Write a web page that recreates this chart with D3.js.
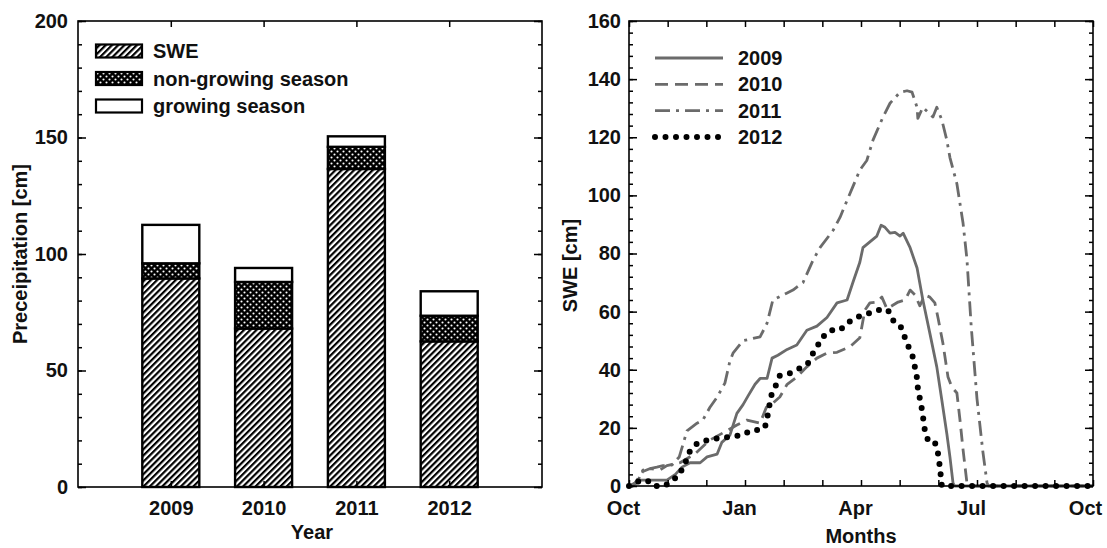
<!DOCTYPE html>
<html>
<head>
<meta charset="utf-8">
<script src="https://cdn.jsdelivr.net/npm/d3@7"></script>
<style>
  html, body { margin: 0; padding: 0; background: #fff; }
  svg { display: block; }
  text { font-family: "Liberation Sans", Arial, sans-serif; font-weight: bold; fill: #111; }
</style>
</head>
<body>
<svg id="chart" width="1107" height="548"></svg>
<script>
// ---------------- DATA ----------------
const years = ["2009", "2010", "2011", "2012"];
const sweVals = [89.5, 68, 136.5, 62.5];
const nonGrowingVals = [6.5, 20, 9.5, 11];
const growingVals = [16.5, 6, 4.5, 10.5];
const precipTicks = [0, 50, 100, 150, 200];
const barLegend = ["SWE", "non-growing season", "growing season"];

const monthTickPos = [0, 3, 6, 9, 12];
const monthLabels = ["Oct", "Jan", "Apr", "Jul", "Oct"];
const sweTicks = [0, 20, 40, 60, 80, 100, 120, 140, 160];
const lineLegend = ["2009", "2010", "2011", "2012"];

// [months since Oct 1, SWE cm]
const swe2009 = [[0,0],[0.3,2],[0.6,2],[0.98,2],[1.2,4],[1.37,6.5],[1.58,8],[1.84,8],[2.02,10],[2.28,11],[2.4,15],[2.61,17.5],[2.79,25],[2.95,28],[3.08,31],[3.26,35],[3.39,37],[3.57,37],[3.70,44],[3.85,45],[4.09,47],[4.34,48.5],[4.6,53.6],[4.86,55],[5.12,58],[5.38,63],[5.64,64],[5.79,70],[5.97,77],[6.05,82],[6.23,84],[6.41,86],[6.52,89.7],[6.62,89],[6.75,87],[6.88,87.3],[7.01,86],[7.09,87],[7.27,82],[7.45,75],[7.6,64],[7.78,52.6],[7.96,41],[8.09,29.6],[8.22,18],[8.3,10],[8.38,1],[8.42,0],[12,0]];
const swe2010 = [[0,0],[0.1,0],[0.36,5],[0.55,6],[0.8,5.5],[0.98,7],[1.32,8],[1.7,11],[2.09,15.8],[2.53,19],[2.79,21],[3.05,22.7],[3.39,21.6],[3.55,27],[3.72,28.5],[3.9,30.6],[4.09,35],[4.34,37.5],[4.6,41],[4.86,44],[5.12,45.7],[5.38,46],[5.72,48],[5.97,51],[6.1,60.5],[6.23,63],[6.41,63.3],[6.54,65],[6.67,61],[6.8,62],[6.96,63.3],[7.14,64],[7.27,67.4],[7.40,65.7],[7.52,62],[7.65,65.7],[7.78,65],[7.91,63],[7.99,58],[8.12,49],[8.25,37.5],[8.35,34],[8.48,32],[8.56,22.7],[8.64,12.4],[8.74,1],[8.78,0],[12,0]];
const swe2011 = [[0,0],[0.2,1],[0.36,5.5],[0.72,6.5],[0.88,7],[1.11,7.2],[1.3,10],[1.5,19],[1.76,21.6],[1.91,22.7],[2.09,27],[2.28,30.6],[2.48,35.4],[2.61,43],[2.69,45.7],[2.95,50],[3.39,51.3],[3.57,56],[3.72,64],[4.09,66.4],[4.24,67.4],[4.5,70],[4.76,77.7],[4.94,82],[5.28,88],[5.46,92.5],[5.64,98.3],[5.79,103],[5.97,108.7],[6.15,112],[6.31,119],[6.57,127],[6.75,131.7],[7.01,135.5],[7.19,136],[7.32,135.5],[7.45,130.3],[7.47,126.5],[7.6,130.3],[7.78,128],[7.86,127],[7.96,130.3],[8.09,126],[8.22,119],[8.3,113],[8.48,104],[8.64,90.4],[8.74,78],[8.85,55],[9.0,30],[9.15,12],[9.26,1],[9.3,0],[12,0]];
const swe2012 = [[0,0],[0.16,1.4],[0.47,2],[0.62,0],[0.93,0],[1.11,2],[1.32,3.8],[1.4,7.2],[1.53,9.6],[1.58,12.4],[1.78,14.8],[2.04,15.8],[2.35,16.5],[2.61,16.9],[2.92,17.5],[3.18,19.3],[3.44,19.3],[3.57,21.6],[3.59,25],[3.65,29],[3.70,32.3],[3.83,35.4],[3.9,38],[4.16,38.8],[4.42,40.5],[4.63,42.3],[4.73,45],[4.86,47.8],[4.99,51],[5.2,53.6],[5.46,53.6],[5.64,56],[5.84,57.8],[6.05,58.8],[6.31,59.8],[6.54,60.9],[6.70,60.5],[6.83,57],[7.01,55.4],[7.21,48.5],[7.34,44.4],[7.4,40.5],[7.45,37],[7.47,33.7],[7.58,26],[7.65,19.3],[7.73,15.8],[7.84,14.8],[7.91,15.1],[7.99,11.3],[8.04,6.5],[8.09,0],[12,0]];

// ---------------- SETUP ----------------
const svg = d3.select("#chart");
const defs = svg.append("defs");

const hatch = defs.append("pattern").attr("id", "hatch")
  .attr("patternUnits", "userSpaceOnUse").attr("width", 4.4).attr("height", 4.4)
  .attr("patternTransform", "rotate(45)");
hatch.append("rect").attr("width", 4.4).attr("height", 4.4).attr("fill", "#fff");
hatch.append("line").attr("x1", 1.1).attr("x2", 1.1).attr("y1", 0).attr("y2", 4.4)
  .attr("stroke", "#000").attr("stroke-width", 2.2);

const dots = defs.append("pattern").attr("id", "dots")
  .attr("patternUnits", "userSpaceOnUse").attr("width", 6).attr("height", 6);
dots.append("rect").attr("width", 6).attr("height", 6).attr("fill", "#000");
dots.append("circle").attr("cx", 1.5).attr("cy", 1.5).attr("r", 1.05).attr("fill", "#fff");
dots.append("circle").attr("cx", 4.5).attr("cy", 4.5).attr("r", 1.05).attr("fill", "#fff");

const fills = ["url(#hatch)", "url(#dots)", "#fff"];

function styleAxis(g) {
  g.select(".domain").remove();
  g.selectAll(".tick line").attr("stroke", "#000").attr("stroke-width", 1.5);
  g.selectAll(".tick text").attr("font-size", 20).attr("font-weight", "bold")
    .attr("font-family", "'Liberation Sans', Arial, sans-serif").attr("fill", "#111");
}

// ---------------- LEFT CHART ----------------
const L = { left: 78, right: 542, top: 21, bottom: 487 };
const xL = d3.scaleLinear().domain([0, years.length + 1]).range([L.left, L.right]);
const yL = d3.scaleLinear().domain([0, 200]).range([L.bottom, L.top]);
const barW = 57;
const gL = svg.append("g");

const stackRows = years.map((y, i) => ({ year: y, i: i, swe: sweVals[i], ng: nonGrowingVals[i], gr: growingVals[i] }));
const stack = d3.stack().keys(["swe", "ng", "gr"])(stackRows);
stack.forEach((layer, k) => {
  gL.append("g").selectAll("rect").data(layer).join("rect")
    .attr("x", d => xL(d.data.i + 1) - barW / 2)
    .attr("width", barW)
    .attr("y", d => yL(d[1]))
    .attr("height", d => yL(d[0]) - yL(d[1]))
    .attr("fill", fills[k])
    .attr("stroke", "#000").attr("stroke-width", 2.4);
});

gL.append("g").attr("transform", `translate(${L.left},0)`)
  .call(d3.axisLeft(yL).tickValues(precipTicks).tickSize(-8).tickPadding(10).tickFormat(d3.format("d")))
  .call(styleAxis);
gL.append("g").attr("transform", `translate(${L.left},0)`)
  .call(d3.axisLeft(yL).tickValues(d3.range(0, 201, 10)).tickSize(-4).tickFormat(""))
  .call(styleAxis);
gL.append("g").attr("transform", `translate(${L.right},0)`)
  .call(d3.axisRight(yL).tickValues(precipTicks).tickSize(-8).tickFormat(""))
  .call(styleAxis);
gL.append("g").attr("transform", `translate(${L.right},0)`)
  .call(d3.axisRight(yL).tickValues(d3.range(0, 201, 10)).tickSize(-4).tickFormat(""))
  .call(styleAxis);
gL.append("g").attr("transform", `translate(0,${L.bottom})`)
  .call(d3.axisBottom(xL).tickValues(d3.range(1, years.length + 1)).tickSize(-6).tickPadding(14)
    .tickFormat(d => years[d - 1]))
  .call(styleAxis);
gL.append("g").attr("transform", `translate(0,${L.top})`)
  .call(d3.axisTop(xL).tickValues(d3.range(1, years.length + 1)).tickSize(-6).tickFormat(""))
  .call(styleAxis);
gL.append("rect").attr("x", L.left).attr("y", L.top).attr("width", L.right - L.left).attr("height", L.bottom - L.top)
  .attr("fill", "none").attr("stroke", "#000").attr("stroke-width", 1.6);

gL.append("text").attr("x", (L.left + L.right) / 2 + 2).attr("y", 539).attr("text-anchor", "middle")
  .attr("font-size", 20).text("Year");
gL.append("text").attr("transform", `translate(27,${(L.top + L.bottom) / 2}) rotate(-90)`)
  .attr("text-anchor", "middle").attr("font-size", 20).text("Preceipitation [cm]");

const legL = gL.append("g");
barLegend.forEach((name, k) => {
  const cy = 51 + k * 27.5;
  legL.append("rect").attr("x", 96).attr("y", cy - 6.5).attr("width", 46).attr("height", 13)
    .attr("fill", fills[k]).attr("stroke", "#000").attr("stroke-width", 2.2);
  legL.append("text").attr("x", 153).attr("y", cy + 7).attr("font-size", 20).text(name);
});

// ---------------- RIGHT CHART ----------------
const R = { left: 629, right: 1093, top: 21, bottom: 486 };
const xR = d3.scaleLinear().domain([0, 12]).range([R.left, R.right]);
const yR = d3.scaleLinear().domain([0, 160]).range([R.bottom, R.top]);
const gR = svg.append("g");

const gray = "#6b6b6b";
const series = [
  { name: "2009", data: swe2009, color: gray, width: 2.8, dash: null, cap: "butt" },
  { name: "2010", data: swe2010, color: gray, width: 2.8, dash: "13,7", cap: "butt" },
  { name: "2011", data: swe2011, color: gray, width: 2.8, dash: "15,6,3,6", cap: "butt" },
  { name: "2012", data: swe2012, color: "#000", width: 6, dash: "0,10.5", cap: "round" }
];
const line = d3.line().x(d => xR(d[0])).y(d => yR(d[1]));
series.forEach(s => {
  gR.append("path").datum(s.data).attr("d", line)
    .attr("fill", "none").attr("stroke", s.color).attr("stroke-width", s.width)
    .attr("stroke-dasharray", s.dash).attr("stroke-linecap", s.cap).attr("stroke-linejoin", "round");
});

gR.append("g").attr("transform", `translate(${R.left},0)`)
  .call(d3.axisLeft(yR).tickValues(sweTicks).tickSize(-8).tickPadding(8).tickFormat(d3.format("d")))
  .call(styleAxis);
gR.append("g").attr("transform", `translate(${R.left},0)`)
  .call(d3.axisLeft(yR).tickValues(d3.range(0, 161, 4)).tickSize(-4).tickFormat(""))
  .call(styleAxis);
gR.append("g").attr("transform", `translate(${R.right},0)`)
  .call(d3.axisRight(yR).tickValues(sweTicks).tickSize(-8).tickFormat(""))
  .call(styleAxis);
gR.append("g").attr("transform", `translate(${R.right},0)`)
  .call(d3.axisRight(yR).tickValues(d3.range(0, 161, 4)).tickSize(-4).tickFormat(""))
  .call(styleAxis);
const xAxisR = gR.append("g").attr("transform", `translate(0,${R.bottom})`)
  .call(d3.axisBottom(xR).tickValues(d3.range(0, 13)).tickSize(-6).tickPadding(15)
    .tickFormat(d => { const i = monthTickPos.indexOf(d); return i >= 0 ? monthLabels[i] : ""; }))
  .call(styleAxis);
// reference labels sit slightly left of their ticks
xAxisR.selectAll(".tick text").attr("dx", d => d === 12 ? -8 : -6);
gR.append("g").attr("transform", `translate(0,${R.top})`)
  .call(d3.axisTop(xR).tickValues(d3.range(0, 13)).tickSize(-6).tickFormat(""))
  .call(styleAxis);
gR.append("rect").attr("x", R.left).attr("y", R.top).attr("width", R.right - R.left).attr("height", R.bottom - R.top)
  .attr("fill", "none").attr("stroke", "#000").attr("stroke-width", 1.6);

gR.append("text").attr("x", (R.left + R.right) / 2).attr("y", 543).attr("text-anchor", "middle")
  .attr("font-size", 20).text("Months");
gR.append("text").attr("transform", `translate(577,${(R.top + R.bottom) / 2 + 12}) rotate(-90)`)
  .attr("text-anchor", "middle").attr("font-size", 20).text("SWE [cm]");

series.forEach((s, k) => {
  const cy = 58 + k * 26.3;
  gR.append("path").attr("d", `M655,${cy}L723,${cy}`)
    .attr("fill", "none").attr("stroke", s.color).attr("stroke-width", s.width)
    .attr("stroke-dasharray", s.dash).attr("stroke-linecap", s.cap);
  gR.append("text").attr("x", 738).attr("y", cy + 7).attr("font-size", 20).text(lineLegend[k]);
});
</script>
</body>
</html>
